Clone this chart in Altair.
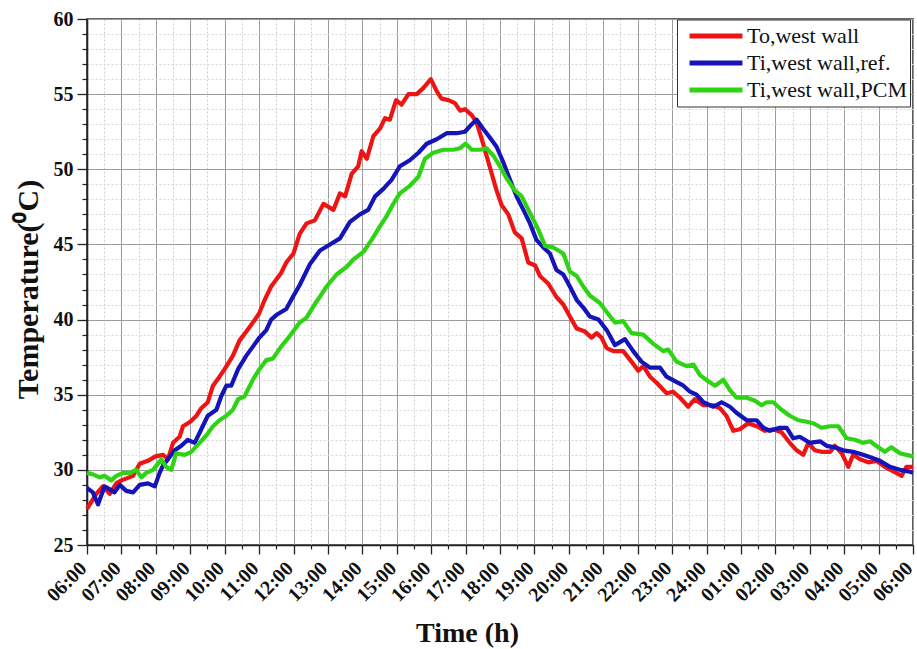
import json
import altair as alt
import pandas as pd

# Time is given in hours elapsed since 06:00 on the first day
SERIES = ["To,west wall", "Ti,west wall,ref.", "Ti,west wall,PCM"]
COLORS = ["#EE1414", "#1414B8", "#2ED414"]

TICK_LABELS = [
    "06:00", "07:00", "08:00", "09:00", "10:00", "11:00", "12:00", "13:00",
    "14:00", "15:00", "16:00", "17:00", "18:00", "19:00", "20:00", "21:00",
    "22:00", "23:00", "24:00", "01:00", "02:00", "03:00", "04:00", "05:00",
    "06:00",
]

red_t = [0.00, 0.27, 0.46, 0.66, 0.85, 1.00, 1.34, 1.53, 1.77, 1.99, 2.21, 2.35,
         2.50, 2.69, 2.79, 3.00, 3.18, 3.32, 3.51, 3.66, 3.85, 4.00, 4.24, 4.43,
         4.63, 4.82, 5.00, 5.16, 5.35, 5.64, 5.79, 6.00, 6.18, 6.38, 6.62, 6.87,
         7.16, 7.35, 7.50, 7.69, 7.88, 7.98, 8.13, 8.32, 8.51, 8.66, 8.80, 8.98,
         9.14, 9.34, 9.58, 9.77, 9.99, 10.16, 10.30, 10.50, 10.69, 10.84, 10.98,
         11.18, 11.32, 11.47, 11.61, 11.76, 11.90, 12.05, 12.24, 12.43, 12.63,
         12.82, 13.02, 13.16, 13.40, 13.64, 13.84, 14.03, 14.23, 14.47, 14.66,
         14.81, 14.95, 15.10, 15.29, 15.58, 15.82, 16.02, 16.16, 16.36, 16.55,
         16.84, 17.03, 17.23, 17.47, 17.66, 17.91, 18.20, 18.39, 18.58, 18.78,
         18.97, 19.21, 19.46, 19.70, 19.94, 20.18, 20.42, 20.62, 20.81, 20.96,
         21.15, 21.34, 21.59, 21.73, 21.93, 22.12, 22.26, 22.46, 22.70, 22.94,
         23.18, 23.43, 23.67, 23.81, 24.00]
red_v = [27.4, 28.4, 28.9, 28.4, 29.1, 29.3, 29.6, 30.4, 30.6, 30.9, 31.0, 30.7,
         31.8, 32.2, 32.9, 33.2, 33.6, 34.1, 34.5, 35.6, 36.2, 36.7, 37.6, 38.6,
         39.2, 39.8, 40.4, 41.3, 42.2, 43.1, 43.8, 44.4, 45.7, 46.4, 46.6, 47.7,
         47.3, 48.4, 48.2, 49.7, 50.2, 51.2, 50.7, 52.2, 52.7, 53.4, 53.3, 54.6,
         54.3, 55.0, 55.0, 55.4, 56.0, 55.2, 54.7, 54.6, 54.4, 53.9, 54.0,
         53.6, 53.1, 52.0, 50.9, 49.7, 48.6, 47.6, 47.0, 45.8, 45.4,
         43.8, 43.6, 42.9, 42.4, 41.5, 41.0, 40.2, 39.4, 39.2, 38.8,
         39.1, 38.8, 38.1, 37.9, 37.9, 37.2, 36.6, 36.9, 36.2, 35.8,
         35.1, 35.2, 34.8, 34.2, 34.7, 34.3, 34.3, 34.1, 33.6, 32.6,
         32.7, 33.1, 32.9, 32.6, 32.7, 32.5, 31.8, 31.3, 31.0, 31.8,
         31.3, 31.2, 31.2, 31.6, 31.1, 30.2, 31.0, 30.7, 30.5, 30.6,
         30.2, 29.9, 29.6, 30.2, 30.2]

blue_t = [0.00, 0.17, 0.32, 0.51, 0.66, 0.80, 0.95, 1.14, 1.34, 1.53, 1.77, 1.97,
          2.11, 2.21, 2.35, 2.55, 2.74, 2.93, 3.13, 3.32, 3.51, 3.76, 3.90, 4.05,
          4.19, 4.39, 4.63, 4.82, 5.01, 5.21, 5.35, 5.50, 5.79, 5.98, 6.18, 6.48,
          6.77, 7.06, 7.35, 7.64, 7.93, 8.17, 8.37, 8.61, 8.85, 9.09, 9.38, 9.63,
          9.87, 10.16, 10.45, 10.74, 10.98, 11.18, 11.32, 11.51, 11.71, 11.90,
          12.09, 12.29, 12.48, 12.68, 12.87, 13.06, 13.26, 13.45, 13.64, 13.84,
          14.03, 14.23, 14.42, 14.61, 14.86, 15.10, 15.34, 15.63, 15.87, 16.11,
          16.36, 16.65, 16.84, 17.08, 17.33, 17.52, 17.71, 17.91, 18.20, 18.44,
          18.68, 18.87, 19.17, 19.46, 19.65, 19.84, 20.13, 20.33, 20.52, 20.71,
          21.00, 21.30, 21.49, 21.73, 21.97, 22.26, 22.55, 22.80, 23.04, 23.33,
          23.62, 23.86, 24.00]
blue_v = [28.8, 28.5, 27.7, 28.9, 28.7, 28.5, 29.0, 28.6, 28.5, 29.0, 29.1, 28.9,
          29.8, 30.3, 30.7, 31.3, 31.6, 32.0, 31.8, 32.7, 33.6, 34.0, 34.9, 35.6,
          35.6, 36.7, 37.6, 38.2, 38.8, 39.3, 40.0, 40.3, 40.7, 41.5, 42.3, 43.7,
          44.6, 45.0, 45.4, 46.5, 47.0, 47.3, 48.2, 48.7, 49.3, 50.2, 50.6, 51.1,
          51.7, 52.0, 52.4, 52.4, 52.5, 53.0, 53.3, 52.7, 52.1, 51.5,
          50.5, 49.3, 48.2, 47.3, 46.4, 45.3, 44.8, 44.4, 43.3, 43.0,
          42.2, 41.3, 40.8, 40.2, 40.0, 39.3, 38.3, 38.7, 37.9, 37.2,
          36.8, 36.8, 36.2, 35.9, 35.6, 35.2, 35.0, 34.5, 34.2, 34.5,
          34.2, 33.8, 33.3, 33.3, 32.8, 32.6, 32.8, 32.8, 32.1, 32.2,
          31.8, 31.9, 31.6, 31.5, 31.3, 31.2, 31.0, 30.8, 30.6, 30.2,
          30.0, 29.9, 29.8]

green_t = [0.00, 0.17, 0.37, 0.51, 0.71, 0.85, 1.05, 1.24, 1.43, 1.58, 1.72, 1.92,
           2.16, 2.30, 2.45, 2.59, 2.84, 3.03, 3.27, 3.47, 3.66, 3.85, 4.05, 4.24,
           4.39, 4.58, 4.82, 5.01, 5.21, 5.40, 5.64, 5.89, 6.18, 6.37, 6.61, 6.76,
           6.96, 7.25, 7.54, 7.74, 8.03, 8.27, 8.51, 8.71, 8.90, 9.09, 9.38, 9.63,
           9.82, 10.06, 10.35, 10.64, 10.84, 11.00, 11.18, 11.42, 11.61, 11.81,
           12.00, 12.19, 12.43, 12.63, 12.87, 13.11, 13.31, 13.55, 13.84, 14.03,
           14.23, 14.42, 14.61, 14.90, 15.10, 15.34, 15.58, 15.82, 16.16, 16.45,
           16.74, 16.89, 17.13, 17.42, 17.62, 17.81, 18.05, 18.25, 18.49, 18.68,
           18.87, 19.17, 19.41, 19.60, 19.75, 19.94, 20.18, 20.42, 20.67, 20.91,
           21.10, 21.34, 21.59, 21.83, 22.07, 22.31, 22.55, 22.75, 22.99, 23.18,
           23.37, 23.62, 23.81, 24.00]
green_v = [29.8, 29.7, 29.5, 29.6, 29.3, 29.6, 29.8, 29.8, 30.0, 29.5, 29.8, 30.0,
           30.7, 30.2, 30.0, 31.1, 31.0, 31.2, 31.8, 32.3, 32.9, 33.3, 33.6, 34.0,
           34.7, 34.9, 36.0, 36.7, 37.3, 37.4, 38.2, 38.9, 39.8, 40.1, 41.0, 41.5,
           42.2, 43.0, 43.5, 44.0, 44.5, 45.3, 46.2, 46.9, 47.7, 48.4, 48.9, 49.5,
           50.7, 51.1, 51.3, 51.3, 51.4, 51.7, 51.3, 51.3, 51.4, 50.9,
           50.2, 49.4, 48.6, 48.2, 47.1, 46.0, 44.9, 44.8, 44.4, 43.2,
           42.9, 42.2, 41.6, 41.1, 40.5, 39.8, 39.9, 39.1, 39.0, 38.4,
           37.9, 38.0, 37.2, 36.9, 37.0, 36.3, 35.9, 35.6, 36.0, 35.3,
           34.8, 34.8, 34.6, 34.3, 34.5, 34.5, 34.0, 33.6, 33.3, 33.2,
           33.1, 32.8, 32.9, 32.9, 32.1, 32.0, 31.8, 31.9, 31.5, 31.2,
           31.5, 31.1, 31.0, 30.9]

frames = []
for name, t, v in zip(SERIES, [red_t, blue_t, green_t], [red_v, blue_v, green_v]):
    frames.append(pd.DataFrame({"time": t, "temp": v, "series": name}))
df = pd.concat(frames, ignore_index=True)

FONT = "Liberation Serif"
x_scale = alt.Scale(domain=[0, 24], nice=False, zero=False)
y_scale = alt.Scale(domain=[25, 60], nice=False, zero=False)

major_x = list(range(0, 25))
minor_x = [h + 0.5 for h in range(0, 24)]
major_y = list(range(25, 61, 5))
minor_y = [v for v in range(25, 61) if v % 5 != 0]

label_expr = json.dumps(TICK_LABELS) + "[datum.value]"

# Layer carrying the minor ticks and the dotted minor grid
minor = alt.Chart(df).mark_line(opacity=0).encode(
    x=alt.X("time:Q", scale=x_scale, axis=alt.Axis(
        orient="bottom", values=minor_x, labels=False, domain=False, title=None,
        tickSize=4, tickColor="#222", tickWidth=1.2,
        grid=True, gridColor="#cdcdcd", gridDash=[2, 2], gridWidth=1)),
    y=alt.Y("temp:Q", scale=y_scale, axis=alt.Axis(
        orient="left", values=minor_y, labels=False, domain=False, title=None,
        tickSize=5, tickColor="#222", tickWidth=1.2,
        grid=True, gridColor="#d8d8d8", gridDash=[2, 2], gridWidth=1)),
    detail="series:N",
)

lines = alt.Chart(df).mark_line(strokeWidth=4.2, strokeJoin="round").encode(
    x=alt.X("time:Q", scale=x_scale, axis=alt.Axis(
        orient="bottom", values=major_x, labelExpr=label_expr,
        labelAngle=315, labelAlign="right", labelBaseline="middle",
        labelFont=FONT, labelFontSize=20, labelFontWeight="bold", labelColor="#111",
        labelPadding=11, labelOffset=-4, labelOverlap=False, labelFlush=False,
        labelBound=False,
        tickSize=9, tickColor="#222", tickWidth=1.3,
        domainColor="#222", domainWidth=1.6,
        grid=True, gridColor="#9c9c9c", gridWidth=1,
        title="Time (h)", titleFont=FONT, titleFontSize=28, titleFontWeight="bold",
        titleColor="#111", titleX=380, titleY=88, titleAlign="center",
        titleBaseline="middle")),
    y=alt.Y("temp:Q", scale=y_scale, axis=alt.Axis(
        orient="left", values=major_y,
        labelFont=FONT, labelFontSize=20, labelFontWeight="bold", labelColor="#111",
        labelPadding=4, tickSize=10, tickColor="#222", tickWidth=1.3,
        domainColor="#222", domainWidth=1.6,
        grid=True, gridColor="#9c9c9c", gridWidth=1,
        title="Temperature(⁰C)", titleFont=FONT, titleFontSize=30,
        titleFontWeight="bold", titleColor="#111", titleAngle=270,
        titleX=-59, titleY=270, titleAlign="center", titleBaseline="middle")),
    color=alt.Color("series:N", scale=alt.Scale(domain=SERIES, range=COLORS),
                    sort=SERIES,
                    legend=alt.Legend(
                        orient="none", legendX=590, legendY=0.5, title=None,
                        strokeColor="#333", fillColor="white", padding=3,
                        symbolType="stroke", symbolSize=2800, symbolStrokeWidth=5,
                        symbolOffset=7, clipHeight=27, rowPadding=0,
                        labelFont=FONT, labelFontSize=22, labelColor="#111",
                        labelOffset=2, labelLimit=300)),
    order=alt.Order("time:Q"),
)

chart = alt.layer(minor, lines).resolve_axis(
    x="independent", y="independent"
).properties(
    width=826, height=526,
    autosize=alt.AutoSizeParams(type="none"),
    padding={"left": 87, "top": 19, "right": 4, "bottom": 104},
    background="white",
).configure_view(stroke="#333", strokeWidth=1.6)

chart.save("out.html", embed_options={"renderer": "svg", "actions": False})
